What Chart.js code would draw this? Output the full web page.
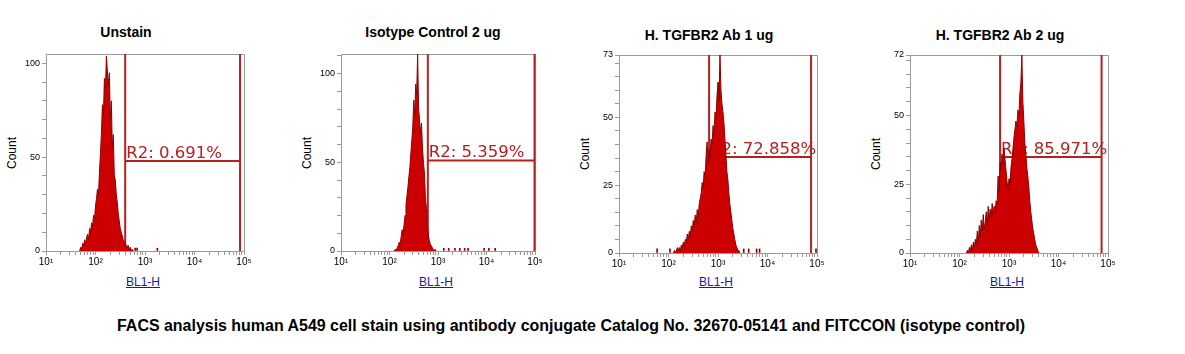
<!DOCTYPE html>
<html>
<head>
<meta charset="utf-8">
<script src="https://cdn.jsdelivr.net/npm/chart.js@4.4.1/dist/chart.umd.min.js"></script>
<style>
  body { margin: 0; background: #fff; width: 1185px; height: 354px; position: relative; overflow: hidden; font-family: "Liberation Sans", Arial, sans-serif; }
  canvas { position: absolute; }
  .title { position: absolute; font-weight: bold; font-size: 14px; color: #000; white-space: nowrap; transform: translate(-50%, -50%); }
  .ylab { position: absolute; font-size: 12px; color: #000; white-space: nowrap; transform: translate(-50%, -50%) rotate(-90deg); }
  .xlab { position: absolute; font-size: 12px; color: #1a1a9c; text-decoration: underline; white-space: nowrap; transform: translate(-50%, -50%); }
  #caption { position: absolute; left: 571px; top: 326px; font-weight: bold; font-size: 16px; font-family: "Liberation Sans Narrow", "Liberation Sans", Arial, sans-serif; white-space: nowrap; }
</style>
</head>
<body>
<div id="labels"></div>
<div id="caption">FACS analysis human A549 cell stain using antibody conjugate Catalog No. 32670-05141 and FITCCON (isotype control)</div>
<canvas id="c1"></canvas>
<canvas id="c2"></canvas>
<canvas id="c3"></canvas>
<canvas id="c4"></canvas>
<script>
// ---- data (x in log10 units of BL1-H, one bin every 0.02 decade) ----
const titles = ["Unstain", "Isotype Control 2 ug", "H. TGFBR2 Ab 1 ug", "H. TGFBR2 Ab 2 ug"];
const binStep = 0.02;

const p1Start = 1.68;
const p1Counts = [0, 2, 1, 4, 3, 6, 4, 7, 9, 6, 12, 10, 15, 13, 19, 17, 24, 28, 33, 30, 42, 52, 63, 78, 72, 92,
  85, 104, 96, 88, 95, 70, 80, 55, 62, 40, 38, 30, 26, 20, 16, 12, 10, 8, 6, 5, 4, 3, 2, 3, 1, 2, 0, 1, 0];
const p1Strays = [2.80, 2.84, 3.25];

const p2Start = 2.10;
const p2Counts = [0, 1, 0, 2, 3, 5, 4, 8, 12, 9, 15, 20, 26, 31, 36, 42, 47, 55, 62, 70, 85, 76, 94, 88, 111,
  80, 74, 66, 72, 58, 50, 44, 30, 24, 15, 9, 6, 4, 3, 2, 1, 0, 1, 0];
const p2Strays = [3.12, 3.22, 3.35, 3.45, 3.55, 3.62, 3.95, 4.05, 4.18];

const p3Start = 2.10;
const p3Counts = [0, 1, 0, 1, 2, 1, 2, 1, 3, 2, 4, 3, 5, 4, 7, 5, 8, 6, 10, 8, 12, 10, 14, 11, 16, 13, 18, 20,
  22, 26, 24, 30, 28, 36, 41, 33, 38, 35, 42, 40, 47, 44, 52, 50, 58, 63, 56, 73, 60, 55, 52, 48, 42, 36, 30,
  27, 22, 18, 15, 12, 9, 7, 5, 3, 2, 1, 1, 0];
const p3Strays = [1.77, 2.03, 3.52, 3.62, 3.78, 3.84, 4.98];

const p4Start = 2.14;
const p4Counts = [0, 1, 0, 2, 1, 3, 1, 4, 2, 5, 3, 8, 4, 10, 6, 12, 8, 14, 9, 11, 15, 10, 17, 12, 16, 13, 18,
  14, 17, 15, 19, 18, 28, 22, 33, 30, 36, 32, 38, 34, 30, 26, 23, 27, 25, 31, 34, 38, 42, 45, 48, 46, 52, 50,
  58, 62, 72, 55, 48, 40, 36, 31, 28, 24, 19, 15, 12, 9, 7, 5, 3, 2, 1, 0];
const p4Strays = [];

// gates: [left, right] in log10 units, bar level in counts, label
const gateLeft = [2.60, 2.79, 2.82, 2.82];
const gateRight = [4.92, 4.99, 4.88, 4.87];
const gateLevel = [48, 51, 35.4, 34.9];
const gateText = ["R2: 0.691%", "R2: 5.359%", "R2: 72.858%", "R2: 85.971%"];

const yMax = [105, 111, 73, 72];
const yMajor = [[0, 50, 100], [0, 50, 100], [0, 25, 50, 73], [0, 25, 50, 72]];
const yMinorStep = [10, 10, 5, 5];

// ---- layout of the four plot areas ----
const plots = [
  { left: 46, top: 54, width: 198, height: 197, titleX: 126, titleY: 32 },
  { left: 341, top: 54, width: 194, height: 197, titleX: 433, titleY: 32 },
  { left: 619, top: 55, width: 198, height: 198, titleX: 709, titleY: 35 },
  { left: 910, top: 55, width: 198, height: 198, titleX: 1000, titleY: 35 }
];

const AXW = 36, AXH = 22, PADT = 8, PADR = 10;
const SUP = ["⁰", "¹", "²", "³", "⁴", "⁵"];
const GRAY = "#9a9a9a";
const GATE = "#b52020";

const framePlugin = {
  id: "frame",
  beforeDatasetsDraw(chart, args, opts) {
    const { ctx, chartArea: a, scales } = chart;
    ctx.save();
    ctx.strokeStyle = GRAY;
    ctx.lineWidth = 1;
    ctx.beginPath();
    ctx.moveTo(a.left, a.top + 0.5);
    ctx.lineTo(a.right + 0.5, a.top + 0.5);
    ctx.lineTo(a.right + 0.5, a.bottom);
    ctx.stroke();
    // gate
    const x1 = scales.x.getPixelForValue(opts.left);
    const x2 = scales.x.getPixelForValue(opts.right);
    const y = scales.y.getPixelForValue(opts.level);
    ctx.strokeStyle = GATE;
    ctx.lineWidth = 2;
    ctx.beginPath();
    ctx.moveTo(x1, a.top);
    ctx.lineTo(x1, a.bottom);
    ctx.moveTo(x2, a.top);
    ctx.lineTo(x2, a.bottom);
    ctx.moveTo(x1, y);
    ctx.lineTo(x2, y);
    ctx.stroke();
    ctx.fillStyle = GATE;
    ctx.font = "16.5px 'DejaVu Sans'";
    ctx.textBaseline = "alphabetic";
    ctx.fillText(opts.text, x1 + 1, y - 3);
    ctx.restore();
  }
};

function makePanel(i, start, counts, strays) {
  const p = plots[i];
  const cv = document.getElementById("c" + (i + 1));
  const w = p.width + AXW + PADR, h = p.height + PADT + AXH;
  cv.width = w; cv.height = h;
  cv.style.width = w + "px"; cv.style.height = h + "px";
  cv.style.left = (p.left - AXW) + "px";
  cv.style.top = (p.top - PADT) + "px";

  const hist = counts.map((c, k) => ({ x: start + k * binStep, y: c }));
  const stray = strays.map(s => ({ x: s, y: 1.5 }));

  new Chart(cv.getContext("2d"), {
    type: "line",
    data: {
      datasets: [
        { type: "line", data: hist, fill: "origin", backgroundColor: "#cc0000", borderColor: "#8e0000",
          borderWidth: 1, pointRadius: 0, tension: 0 },
        { type: "bar", data: stray, backgroundColor: "#8e0000", barThickness: 1 }
      ]
    },
    options: {
      responsive: false,
      animation: false,
      layout: { padding: { top: PADT, right: PADR, left: 0, bottom: 0 } },
      plugins: {
        legend: { display: false },
        tooltip: { enabled: false },
        frame: { left: gateLeft[i], right: gateRight[i], level: gateLevel[i], text: gateText[i] }
      },
      scales: {
        x: {
          type: "linear", min: 1, max: 5, offset: false,
          afterFit(s) { s.height = AXH; s.paddingLeft = 0; s.paddingRight = 0; },
          afterBuildTicks(s) {
            const t = [];
            for (let d = 1; d < 5; d++) for (let k = 1; k < 10; k++) t.push({ value: d + Math.log10(k) });
            t.push({ value: 5 });
            s.ticks = t;
          },
          grid: { drawOnChartArea: false, offset: false, color: GRAY, tickLength: 4 },
          border: { color: GRAY },
          ticks: {
            autoSkip: false, maxRotation: 0, padding: 1, color: "#000",
            font: { family: "'Liberation Sans'", size: 10 },
            callback: v => Number.isInteger(v) ? "10" + SUP[v] : ""
          }
        },
        y: {
          min: 0, max: yMax[i],
          afterFit(s) { s.width = AXW; s.paddingTop = 0; s.paddingBottom = 0; },
          afterBuildTicks(s) {
            const t = [];
            for (let v = 0; v <= yMax[i]; v += yMinorStep[i]) t.push({ value: v });
            yMajor[i].forEach(v => { if (!t.some(o => o.value === v)) t.push({ value: v }); });
            s.ticks = t;
          },
          grid: { drawOnChartArea: false, color: GRAY, tickLength: 4 },
          border: { color: GRAY },
          ticks: {
            autoSkip: false, padding: 2, color: "#000",
            font: { family: "'Liberation Sans'", size: 9 },
            callback: v => yMajor[i].includes(v) ? String(v) : ""
          }
        }
      }
    },
    plugins: [framePlugin]
  });

  // html labels around the plot
  const box = document.getElementById("labels");
  const cx = p.left + p.width / 2;
  box.insertAdjacentHTML("beforeend",
    `<div class="title" style="left:${p.titleX}px;top:${p.titleY}px">${titles[i]}</div>` +
    `<div class="ylab" style="left:${p.left - 34}px;top:${p.top + p.height / 2}px">Count</div>` +
    `<div class="xlab" style="left:${cx - 2}px;top:282px">BL1-H</div>`);
}

makePanel(0, p1Start, p1Counts, p1Strays);
makePanel(1, p2Start, p2Counts, p2Strays);
makePanel(2, p3Start, p3Counts, p3Strays);
makePanel(3, p4Start, p4Counts, p4Strays);

// fit caption width to the reference (~908px), centred at x=571
const cap = document.getElementById("caption");
const cw = cap.getBoundingClientRect().width;
cap.style.transform = `translate(-50%, -50%) scaleX(${908 / cw})`;
</script>
</body>
</html>
